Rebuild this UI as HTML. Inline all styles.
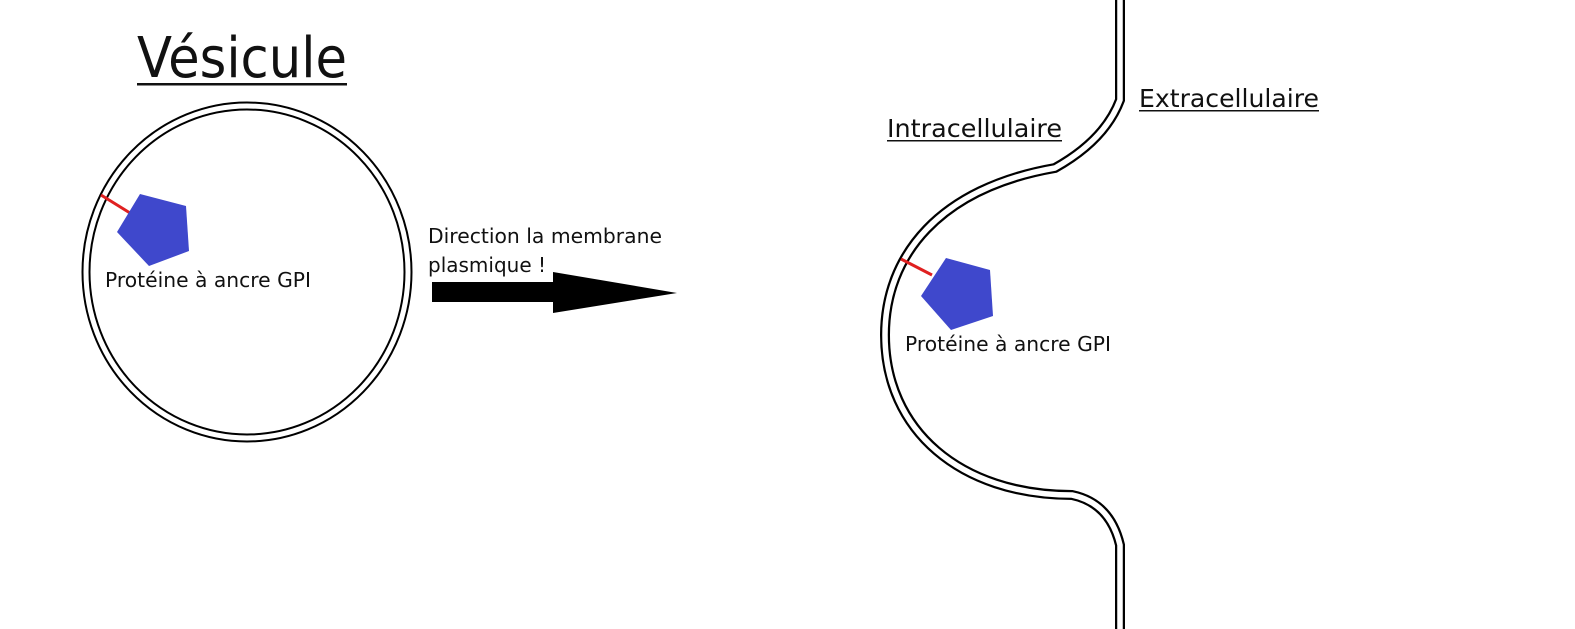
<!DOCTYPE html>
<html><head><meta charset="utf-8"><style>
html,body{margin:0;padding:0;background:#fff;}
svg{display:block;}
text{font-family:"DejaVu Sans","Liberation Sans",sans-serif;fill:#111;}
</style></head><body>
<svg width="1575" height="629" viewBox="0 0 1575 629" xmlns="http://www.w3.org/2000/svg">
<!-- Vesicle -->
<ellipse cx="247" cy="272" rx="161" ry="166" fill="none" stroke="#000" stroke-width="9"/>
<ellipse cx="247" cy="272" rx="161" ry="166" fill="none" stroke="#fff" stroke-width="5"/>
<line x1="101" y1="195" x2="130" y2="213" stroke="#e02020" stroke-width="3"/>
<polygon points="140,194 186,206 189,251 149,266 117,232" fill="#3f48cc"/>
<text x="105" y="287" font-size="20" textLength="206" lengthAdjust="spacingAndGlyphs">Protéine à ancre GPI</text>
<text x="137" y="77" font-size="56" textLength="210" lengthAdjust="spacingAndGlyphs">Vésicule</text>
<rect x="137" y="83" width="210" height="2.5" fill="#111"/>
<!-- Arrow text + arrow -->
<text x="428" y="243" font-size="20" textLength="234" lengthAdjust="spacingAndGlyphs">Direction la membrane</text>
<text x="428" y="272" font-size="20" textLength="118" lengthAdjust="spacingAndGlyphs">plasmique !</text>
<rect x="432" y="282" width="124" height="20" fill="#000"/>
<polygon points="553,272 677,293 553,313" fill="#000"/>
<!-- Membrane -->
<path d="M1120,-5 L1120,100 Q1105,140 1055,168 C940,188 885,255 885,335 C885,430 960,495 1072,495 Q1110,503 1120,545 L1120,640" fill="none" stroke="#000" stroke-width="10"/>
<path d="M1120,-5 L1120,100 Q1105,140 1055,168 C940,188 885,255 885,335 C885,430 960,495 1072,495 Q1110,503 1120,545 L1120,640" fill="none" stroke="#fff" stroke-width="5.5"/>
<line x1="901" y1="259" x2="932" y2="275" stroke="#e02020" stroke-width="3"/>
<polygon points="946,258 990,270 993,316 951,330 921,296" fill="#3f48cc"/>
<text x="905" y="351" font-size="20" textLength="206" lengthAdjust="spacingAndGlyphs">Protéine à ancre GPI</text>
<text x="887" y="137" font-size="25" textLength="175" lengthAdjust="spacingAndGlyphs">Intracellulaire</text>
<rect x="887" y="140" width="175" height="1.5" fill="#111"/>
<text x="1139" y="107" font-size="25" textLength="180" lengthAdjust="spacingAndGlyphs">Extracellulaire</text>
<rect x="1139" y="110" width="180" height="1.5" fill="#111"/>
</svg>
</body></html>
